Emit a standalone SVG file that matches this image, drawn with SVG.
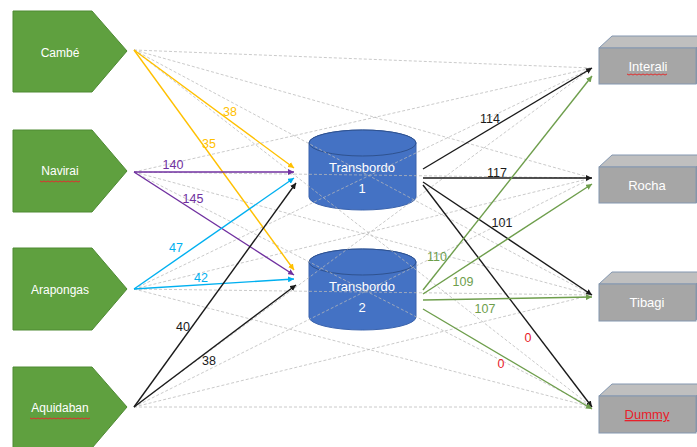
<svg xmlns="http://www.w3.org/2000/svg" width="697" height="447" viewBox="0 0 697 447">
<style>
.src{fill:#5FA03F;stroke:#4E8A33;stroke-width:1}
.lbl{font-family:"Liberation Sans",Arial,sans-serif;font-size:12px;fill:#fff;text-anchor:middle}
.cyl{fill:#4472C4;stroke:#3A63AD;stroke-width:1}
.cyltop{fill:#4472C4;stroke:#2F528F;stroke-width:1}
.ct{font-family:"Liberation Sans",Arial,sans-serif;font-size:13px;fill:#fff;text-anchor:middle}
.front{fill:#A6A6A6;stroke:#8497B0;stroke-width:1}
.top{fill:#BFBFBF;stroke:#8497B0;stroke-width:1}
.side{fill:#8C8C8C;stroke:#8497B0;stroke-width:1}
.bt{font-family:"Liberation Sans",Arial,sans-serif;font-size:13px;fill:#fff;text-anchor:middle}
.dash{stroke:#B8B8B8;stroke-opacity:0.75;stroke-width:1;stroke-dasharray:3 2;fill:none}
.a{fill:none;stroke-width:1.4}
.n{font-family:"Liberation Sans",Arial,sans-serif;font-size:12.5px;text-anchor:middle}
.sq{stroke:#E03030;stroke-width:1;fill:none}
</style>
<defs>
<marker id="mY" markerWidth="6" markerHeight="6" refX="6" refY="3" orient="auto" markerUnits="userSpaceOnUse"><path d="M0,0 L6,3 L0,6 z" fill="#FFC000"/></marker>
<marker id="mP" markerWidth="6" markerHeight="6" refX="6" refY="3" orient="auto" markerUnits="userSpaceOnUse"><path d="M0,0 L6,3 L0,6 z" fill="#7030A0"/></marker>
<marker id="mC" markerWidth="6" markerHeight="6" refX="6" refY="3" orient="auto" markerUnits="userSpaceOnUse"><path d="M0,0 L6,3 L0,6 z" fill="#00B0F0"/></marker>
<marker id="mK" markerWidth="6" markerHeight="6" refX="6" refY="3" orient="auto" markerUnits="userSpaceOnUse"><path d="M0,0 L6,3 L0,6 z" fill="#1A1A1A"/></marker>
<marker id="mG" markerWidth="6" markerHeight="6" refX="6" refY="3" orient="auto" markerUnits="userSpaceOnUse"><path d="M0,0 L6,3 L0,6 z" fill="#6E9E4C"/></marker>
</defs>
<rect width="697" height="447" fill="#fff"/>

<g id="cambe"><polygon class="src" points="13,11 92,11 127,51 92,92 13,92"/><text class="lbl" x="60" y="57">Cambé</text></g>
<g id="navirai"><polygon class="src" points="13,130 92,130 127,171 92,212 13,212"/><text class="lbl" x="60" y="175">Navirai</text><path class="sq" d="M40,181 l2,1 2,-1 2,1 2,-1 2,1 2,-1 2,1 2,-1 2,1 2,-1 2,1 2,-1 2,1 2,-1 2,1 2,-1 2,1 2,-1 2,1 2,-1"/></g>
<g id="arapongas"><polygon class="src" points="13,248 92,248 127,289 92,330 13,330"/><text class="lbl" x="60" y="294">Arapongas</text></g>
<g id="aquidaban"><polygon class="src" points="13,367 92,367 127,407 92,448 13,448"/><text class="lbl" x="60" y="412">Aquidaban</text><path class="sq" d="M30,418 l2,1 2,-1 2,1 2,-1 2,1 2,-1 2,1 2,-1 2,1 2,-1 2,1 2,-1 2,1 2,-1 2,1 2,-1 2,1 2,-1 2,1 2,-1 2,1 2,-1 2,1 2,-1 2,1 2,-1 2,1 2,-1 2,1 2,-1"/></g>

<g id="transbordo1"><path class="cyl" d="M309,143 A53.5,13 0 0,1 416,143 V197 A53.5,13 0 0,1 309,197 Z"/><ellipse class="cyltop" cx="362.5" cy="143" rx="53.5" ry="13"/><text class="ct" x="362" y="172">Transbordo</text><text class="ct" x="362" y="193">1</text></g>
<g id="transbordo2"><path class="cyl" d="M309,262 A53.5,13 0 0,1 416,262 V317 A53.5,13 0 0,1 309,317 Z"/><ellipse class="cyltop" cx="362.5" cy="262" rx="53.5" ry="13"/><text class="ct" x="362" y="291">Transbordo</text><text class="ct" x="362" y="312">2</text></g>

<g id="interali"><polygon class="top" points="599,48 612,36 709,36 696,48"/><polygon class="side" points="696,48 709,36 709,72 696,84"/><rect class="front" x="599" y="48" width="97" height="36"/><text class="bt" x="648" y="71">Interali</text><path class="sq" d="M627,74 l2,1 2,-1 2,1 2,-1 2,1 2,-1 2,1 2,-1 2,1 2,-1 2,1 2,-1 2,1 2,-1 2,1 2,-1 2,1 2,-1 2,1 2,-1"/></g>
<g id="rocha"><polygon class="top" points="599,167 612,155 709,155 696,167"/><polygon class="side" points="696,167 709,155 709,191 696,203"/><rect class="front" x="599" y="167" width="97" height="36"/><text class="bt" x="647" y="190">Rocha</text></g>
<g id="tibagi"><polygon class="top" points="599,284 612,272 709,272 696,284"/><polygon class="side" points="696,284 709,272 709,308 696,320"/><rect class="front" x="599" y="284" width="97" height="37"/><text class="bt" x="647" y="307">Tibagi</text></g>
<g id="dummy"><polygon class="top" points="599,396 612,384 709,384 696,396"/><polygon class="side" points="696,396 709,384 709,420 696,432"/><rect class="front" x="599" y="396" width="97" height="37"/><text class="bt" x="647" y="419" style="fill:#E8202A" text-decoration="underline">Dummy</text></g>

<g id="connectors">
<g id="dashed">
<line class="dash" x1="134" y1="50" x2="592" y2="68"/>
<line class="dash" x1="134" y1="50" x2="592" y2="178"/>
<line class="dash" x1="134" y1="50" x2="592" y2="295"/>
<line class="dash" x1="134" y1="50" x2="592" y2="407"/>
<line class="dash" x1="134" y1="172" x2="592" y2="68"/>
<line class="dash" x1="134" y1="172" x2="592" y2="178"/>
<line class="dash" x1="134" y1="172" x2="592" y2="295"/>
<line class="dash" x1="134" y1="172" x2="592" y2="407"/>
<line class="dash" x1="134" y1="289" x2="592" y2="68"/>
<line class="dash" x1="134" y1="289" x2="592" y2="178"/>
<line class="dash" x1="134" y1="289" x2="592" y2="295"/>
<line class="dash" x1="134" y1="289" x2="592" y2="407"/>
<line class="dash" x1="134" y1="407" x2="592" y2="68"/>
<line class="dash" x1="134" y1="407" x2="592" y2="178"/>
<line class="dash" x1="134" y1="407" x2="592" y2="295"/>
<line class="dash" x1="134" y1="407" x2="592" y2="407"/>
</g>
<g id="arrows">
<line class="a" stroke="#FFC000" x1="134" y1="50" x2="294" y2="168" marker-end="url(#mY)"/>
<line class="a" stroke="#FFC000" x1="134" y1="50" x2="294" y2="270" marker-end="url(#mY)"/>
<line class="a" stroke="#7030A0" x1="134" y1="172" x2="294" y2="172" marker-end="url(#mP)"/>
<line class="a" stroke="#7030A0" x1="134" y1="172" x2="294" y2="275" marker-end="url(#mP)"/>
<line class="a" stroke="#00B0F0" x1="134" y1="289" x2="294" y2="178" marker-end="url(#mC)"/>
<line class="a" stroke="#00B0F0" x1="134" y1="289" x2="294" y2="279" marker-end="url(#mC)"/>
<line class="a" stroke="#1A1A1A" x1="134" y1="407" x2="296" y2="183" marker-end="url(#mK)"/>
<line class="a" stroke="#1A1A1A" x1="134" y1="407" x2="296" y2="285" marker-end="url(#mK)"/>
<line class="a" stroke="#1A1A1A" x1="423" y1="169" x2="592" y2="68" marker-end="url(#mK)"/>
<line class="a" stroke="#1A1A1A" x1="423" y1="178" x2="592" y2="178" marker-end="url(#mK)"/>
<line class="a" stroke="#1A1A1A" x1="423" y1="182" x2="592" y2="295" marker-end="url(#mK)"/>
<line class="a" stroke="#1A1A1A" x1="423" y1="185" x2="592" y2="407" marker-end="url(#mK)"/>
<line class="a" stroke="#6E9E4C" x1="423" y1="290" x2="592" y2="76" marker-end="url(#mG)"/>
<line class="a" stroke="#6E9E4C" x1="423" y1="294" x2="592" y2="184" marker-end="url(#mG)"/>
<line class="a" stroke="#6E9E4C" x1="423" y1="300" x2="592" y2="297" marker-end="url(#mG)"/>
<line class="a" stroke="#6E9E4C" x1="423" y1="309" x2="592" y2="409" marker-end="url(#mG)"/>
</g>
<g id="labels">
<text class="n" fill="#FFC000" x="230" y="116">38</text>
<text class="n" fill="#FFC000" x="209" y="148">35</text>
<text class="n" fill="#7030A0" x="173" y="169">140</text>
<text class="n" fill="#7030A0" x="193" y="203">145</text>
<text class="n" fill="#00B0F0" x="176" y="252">47</text>
<text class="n" fill="#00B0F0" x="201" y="282">42</text>
<text class="n" fill="#1A1A1A" x="183" y="331">40</text>
<text class="n" fill="#1A1A1A" x="209" y="365">38</text>
<text class="n" fill="#1A1A1A" x="490" y="123">114</text>
<text class="n" fill="#1A1A1A" x="497" y="177">117</text>
<text class="n" fill="#1A1A1A" x="502" y="227">101</text>
<text class="n" fill="#6E9E4C" x="437" y="261">110</text>
<text class="n" fill="#6E9E4C" x="463" y="286">109</text>
<text class="n" fill="#6E9E4C" x="485" y="313">107</text>
<text class="n" fill="#E8202A" x="528" y="342">0</text>
<text class="n" fill="#E8202A" x="501" y="368">0</text>
</g>
</g>
</svg>
